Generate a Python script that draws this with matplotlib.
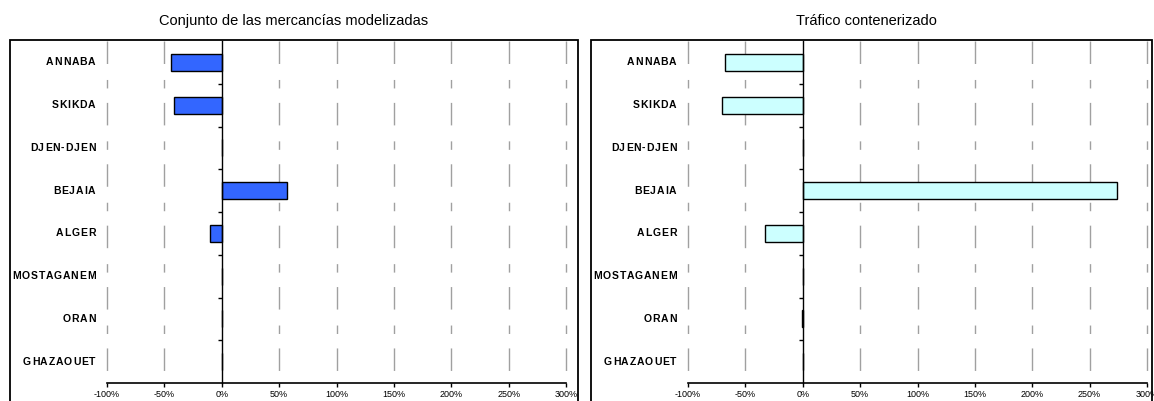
import numpy as np
import matplotlib
matplotlib.use("Agg")
import matplotlib.pyplot as plt
import matplotlib.transforms as mtransforms
from matplotlib.patches import Rectangle
from matplotlib.font_manager import FontProperties
from matplotlib.textpath import TextToPath

plt.rcParams['font.family'] = ['Liberation Sans', 'DejaVu Sans']

# data (percent change)
ports = ['ANNABA', 'SKIKDA', 'DJEN-DJEN', 'BEJAIA', 'ALGER', 'MOSTAGANEM', 'ORAN', 'GHAZAOUET']
total = [-44, -42, 0, 57, -10, 0, 0, 0]
contenedores = [-68, -70, 0, 274, -33, 0, -1, 0]
xticks = [-100, -50, 0, 50, 100, 150, 200, 250, 300]
titles = ['Conjunto de las mercancías modelizadas', 'Tráfico contenerizado']

W, H = 1154, 401
fig = plt.figure(figsize=(W / 100, H / 100), dpi=100)

def fx(px):
    return px / W

def fy(py):
    return 1 - py / H

t2p = TextToPath()
label_prop = FontProperties(family='Liberation Sans', weight='bold', size=7.5)

def spaced_label(ax, trans, x, yv, s, extra=0.6):
    # right aligned text with a bit of letter spacing, like the original
    full = t2p.get_text_width_height_descent(s, label_prop, ismath=False)[0]
    total_w = full + extra * (len(s) - 1)
    for i, ch in enumerate(s):
        pre = t2p.get_text_width_height_descent(s[:i], label_prop, ismath=False)[0] if i else 0
        off = -total_w + pre + extra * i
        tr = mtransforms.offset_copy(trans, fig=fig, x=off, y=0, units='points')
        ax.text(x, yv, ch, transform=tr, ha='left', va='center', fontproperties=label_prop)

# outer frames
for x0, x1 in [(10, 578), (591, 1152)]:
    fig.patches.append(Rectangle((fx(x0), -0.05), fx(x1) - fx(x0), fy(40) + 0.05,
                                 transform=fig.transFigure, fill=False,
                                 edgecolor='black', linewidth=1.3))

panels = [(107, 566, total, '#3366ff', titles[0], 294),
          (688, 1147, contenedores, '#ccffff', titles[1], 866)]

y = np.arange(len(ports))
for x0, x1, vals, color, title, tx in panels:
    ax = fig.add_axes([fx(x0), fy(383), fx(x1) - fx(x0), fy(41) - fy(383)])
    ax.set_xlim(-100, 300)
    ax.set_ylim(len(ports) - 0.5, -0.5)

    # dashed grid lines drawn top to bottom
    for xt in xticks:
        if xt == 0:
            continue
        ax.plot([xt, xt], [-0.5, len(ports) - 0.5], color='#a0a0a0', linewidth=1.0,
                dashes=(16.2, 11.5, 6.1, 10.4), zorder=1, clip_on=False)

    ax.barh(y, vals, height=0.4, color=color, edgecolor='black', linewidth=1.0, zorder=3)

    for s in ['top', 'right']:
        ax.spines[s].set_visible(False)
    ax.spines['left'].set_position(('data', 0))
    ax.spines['left'].set_linewidth(1.0)
    ax.spines['left'].set_zorder(4)
    ax.spines['bottom'].set_linewidth(1.2)

    ax.set_yticks(np.arange(0.5, len(ports) - 1, 1.0))
    ax.set_yticklabels([])
    ax.tick_params(axis='y', direction='out', length=3, width=1)

    ax.set_xticks(xticks)
    ax.set_xticklabels(['%d%%' % v for v in xticks], fontsize=6.5)
    ax.tick_params(axis='x', direction='out', length=3, width=1, pad=2)

    trans = mtransforms.blended_transform_factory(ax.transAxes, ax.transData)
    for yi, name in zip(y, ports):
        spaced_label(ax, trans, -0.025, yi, name)

    fig.text(fx(tx), fy(21), title, ha='center', va='center', fontsize=10.5)

fig.savefig('out.png', dpi=100)
